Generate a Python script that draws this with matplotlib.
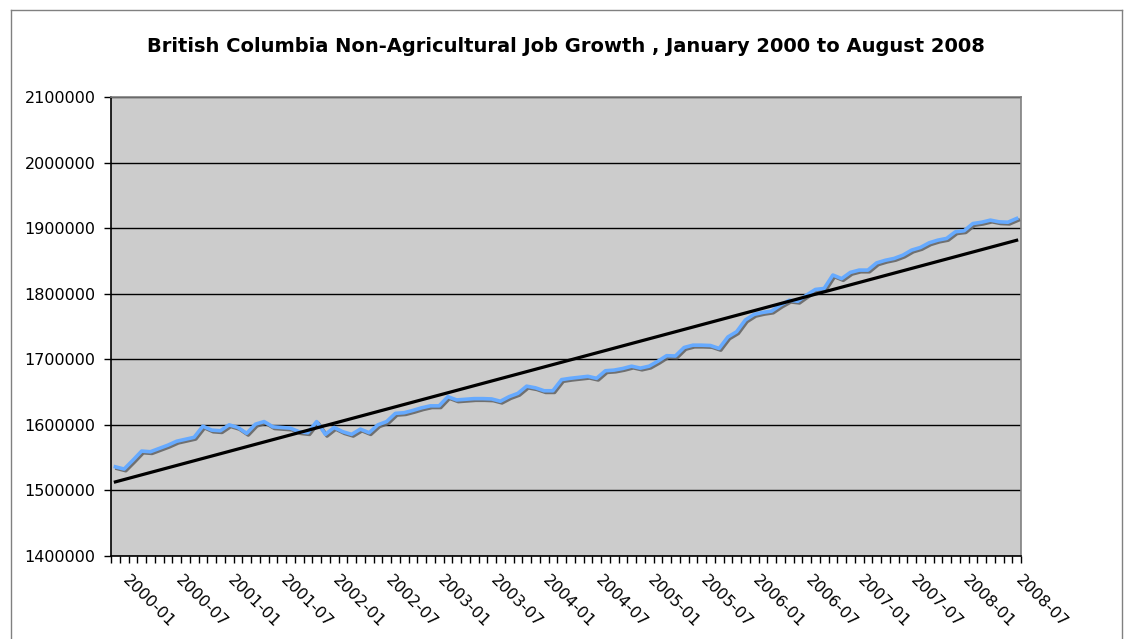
import numpy as np
import matplotlib
matplotlib.use("Agg")
import matplotlib.pyplot as plt
import matplotlib.patheffects as pe
import matplotlib.transforms as mtransforms
from matplotlib.lines import Line2D
from matplotlib.ticker import FixedLocator, FuncFormatter

title = "British Columbia Non-Agricultural Job Growth , January 2000 to August 2008"

# Monthly jobs, 2000-01 .. 2008-08
jobs = [
    1536000, 1532600, 1546000, 1560000, 1559000, 1564000, 1569000, 1575000, 1578000, 1581000,
    1598000, 1592000, 1591000, 1600000, 1596000, 1587000, 1601000, 1605000, 1597000, 1596000,
    1595000, 1589500, 1588000, 1605000, 1585500, 1596000, 1589500, 1585500, 1593500, 1588000,
    1600000, 1605000, 1617500, 1618500, 1622000, 1626000, 1629000, 1629000, 1643000, 1638000,
    1639000, 1640000, 1640000, 1639500, 1636000, 1643000, 1648000, 1659000, 1656500, 1652000,
    1652000, 1669000, 1671000, 1672500, 1674000, 1671000, 1682500, 1683500, 1686000, 1689500,
    1686500, 1689500, 1697000, 1705500, 1705000, 1718000, 1721500, 1721500, 1721000, 1716500,
    1734000, 1742000, 1760000, 1768500, 1771500, 1773500, 1782500, 1790000, 1788500, 1798000,
    1806500, 1808000, 1828500, 1823000, 1832500, 1836000, 1836000, 1847000, 1851000, 1853800,
    1858800, 1866500, 1870500, 1877600, 1881700, 1884300, 1894400, 1896000, 1907000, 1909000,
    1912200, 1909600, 1909000, 1914700,
]
month_labels = [f"{2000 + k // 12}-{k % 12 + 1:02d}" for k in range(len(jobs))]
tick_labels = month_labels[::6]
y_ticks = [1400000, 1500000, 1600000, 1700000, 1800000, 1900000, 2000000, 2100000]

W, H = 1133, 639
fig = plt.figure(figsize=(W / 100, H / 100), dpi=100)
fig.patch.set_facecolor("white")

# outer chart border
for (x0, y0, x1, y1) in [(11, 10, 1122, 10), (11, 10, 11, 645), (1122, 10, 1122, 645)]:
    fig.add_artist(Line2D([x0 / W, x1 / W], [1 - y0 / H, 1 - y1 / H],
                          transform=fig.transFigure, color="#808080", lw=1.0))

ax = fig.add_axes([111 / W, 1 - 556 / H, (1021 - 111) / W, (556 - 97) / H])
ax.set_facecolor("#cccccc")

x = np.arange(len(jobs))
ax.plot(x, jobs, color="#66aaff", lw=2.6, solid_joinstyle="round", zorder=3,
        path_effects=[pe.SimpleLineShadow(offset=(1.2, -1.2), shadow_color="#666666", alpha=0.9),
                      pe.Normal()])

# linear trendline
coef = np.polyfit(x, jobs, 1)
ax.plot(x, np.polyval(coef, x), color="black", lw=2.3, zorder=4)

ax.set_xlim(-0.5, len(jobs) - 0.5)
ax.set_ylim(y_ticks[0], y_ticks[-1])
ax.set_yticks(y_ticks)
ax.yaxis.set_major_formatter(FuncFormatter(lambda v, p: f"{int(v)}"))
ax.grid(axis="y", color="black", lw=1.0)
ax.set_axisbelow(True)

# x ticks: minor at category boundaries, labels at category centers
ax.xaxis.set_minor_locator(FixedLocator(np.arange(len(jobs) + 1) - 0.5))
ax.set_xticks(x[::6])
ax.set_xticklabels(tick_labels, rotation=-45, ha="left", va="top", rotation_mode="anchor")
ax.tick_params(axis="x", which="major", length=0, pad=10, labelsize=11.5)
ax.tick_params(axis="x", which="minor", length=5, width=1, color="black", direction="out")
ax.tick_params(axis="y", length=5, width=1, color="black", direction="out", pad=6, labelsize=11.5)
shift = mtransforms.ScaledTranslation(15 / 100, -3 / 100, fig.dpi_scale_trans)
for lab in ax.get_xticklabels():
    lab.set_transform(lab.get_transform() + shift)

ax.spines["left"].set_color("black")
ax.spines["bottom"].set_color("black")
ax.spines["top"].set_color("#808080")
ax.spines["right"].set_color("#808080")
for s in ax.spines.values():
    s.set_linewidth(1.2)

fig.text(566 / W, 1 - 46 / H, title, ha="center", va="center", fontsize=14, fontweight="bold")

fig.savefig("out.png", dpi=100)
